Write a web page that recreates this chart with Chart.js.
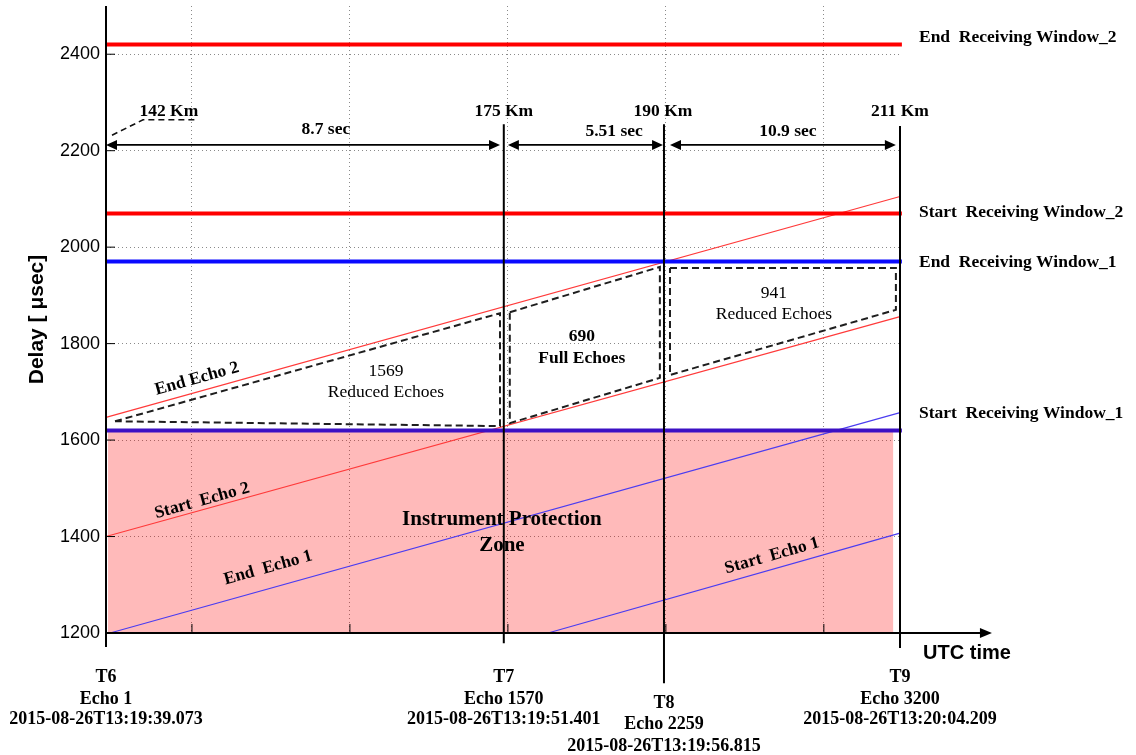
<!DOCTYPE html>
<html>
<head>
<meta charset="utf-8">
<script src="https://cdn.jsdelivr.net/npm/chart.js@4.4.1/dist/chart.umd.min.js"></script>
<style>
  html, body { margin: 0; padding: 0; background: #fff; }
  #wrap { width: 1136px; height: 755px; }
</style>
</head>
<body>
<div id="wrap"><canvas id="delayChart"></canvas></div>
<script>
// x axis is the schematic time axis (seconds after T6, as drawn), y is delay in usec
const xMax = 25.13;
const xArrowEnd = 28.04;
const xGrid = [2.72, 7.72, 12.72, 17.72, 22.72];
const yTicks = [1200, 1400, 1600, 1800, 2000, 2200, 2400];

// time markers T6..T9
const markNames = ['T6', 'T7', 'T8', 'T9'];
const markEchoes = ['Echo 1', 'Echo 1570', 'Echo 2259', 'Echo 3200'];
const markUtc = ['2015-08-26T13:19:39.073', '2015-08-26T13:19:51.401', '2015-08-26T13:19:56.815', '2015-08-26T13:20:04.209'];
const markX = [0, 12.59, 17.66, 25.13];
const markTop = [2500, 2255, 2255, 2251];
const markBottom = [1171, 1179, 1096, 1169];
const markRows = [[1109, 1063, 1022], [1109, 1063, 1022], [1055, 1011, 966], [1109, 1063, 1022]];

// receiving windows
const windowNames = ['End  Receiving Window_2', 'Start  Receiving Window_2', 'End  Receiving Window_1', 'Start  Receiving Window_1'];
const windowDelay = [2420, 2070, 1970, 1620];
const windowX = [0, 25.19];
const windowLabelX = 25.73;
const windowLabelY = [2434, 2071, 1969, 1656];
const windowColors = ['#ff0000', '#ff0000', '#0a0aff', '#3c10c4'];

// echo lines
const echoNames = ['End Echo 2', 'Start  Echo 2', 'End  Echo 1', 'Start  Echo 1'];
const echoX = [[0, 25.13], [0, 25.13], [0.13, 25.13], [13.99, 25.13]];
const echoDelay = [[1647, 2105], [1400, 1856], [1200, 1657], [1200, 1407]];
const echoLabelAt = [[2.88, 1727], [3.04, 1474], [5.13, 1335], [21.08, 1360]];
const echoColors = ['#ff3a3a', '#ff3a3a', '#4b3cf0', '#4b3cf0'];

// dashed echo regions
const zoneCounts = ['1569', '690', '941'];
const zoneKinds = ['Reduced Echoes', 'Full Echoes', 'Reduced Echoes'];
const zoneBold = [false, true, false];
const zoneX = [
  [0.285, 12.47, 12.47, 0.285],
  [12.78, 17.53, 17.53, 12.78, 12.78],
  [17.85, 25.0, 25.0, 17.85, 17.85]
];
const zoneY = [
  [1639, 1863, 1629, 1639],
  [1865, 1959, 1729, 1635, 1865],
  [1957, 1957, 1870, 1735, 1957]
];
const zoneLabelAt = [[8.86, 1743, 1698], [15.06, 1814, 1770], [21.14, 1905, 1861]];

// instrument protection zone
const protX = [0.06, 24.92];
const protTop = 1620;
const protBottom = 1200;

// distances and durations along the top
const kmLabels = ['142 Km', '175 Km', '190 Km', '211 Km'];
const kmX = [1.99, 12.59, 17.63, 25.13];
const kmY = 2282;
const leaderX = [0.19, 1.17, 2.82];
const leaderY = [2232, 2264, 2264];
const durLabels = ['8.7 sec', '5.51 sec', '10.9 sec'];
const spanFrom = [0, 12.72, 17.85];
const spanTo = [12.47, 17.63, 25.0];
const spanY = 2212;
const durX = [6.96, 16.08, 21.58];
const durY = [2243, 2239, 2239];

const SERIF = '"Liberation Serif", "Times New Roman", serif';
const SANS = '"Liberation Sans", Arial, sans-serif';

function pts(xs, ys) {
  return xs.map((x, i) => ({ x: x, y: ys[i] }));
}

const datasets = [];

datasets.push({
  label: 'Instrument Protection Zone',
  data: pts(protX, [protTop, protTop]),
  borderWidth: 0,
  borderColor: 'rgba(0,0,0,0)',
  backgroundColor: 'rgba(255,0,0,0.27)',
  fill: { value: protBottom },
  order: 9
});

windowNames.forEach((name, i) => {
  datasets.push({
    label: name,
    data: pts(windowX, [windowDelay[i], windowDelay[i]]),
    borderColor: windowColors[i],
    borderWidth: 4,
    order: 3
  });
});

echoNames.forEach((name, i) => {
  datasets.push({
    label: name,
    data: pts(echoX[i], echoDelay[i]),
    borderColor: echoColors[i],
    borderWidth: 1.2,
    order: 5
  });
});

zoneCounts.forEach((c, i) => {
  datasets.push({
    label: c + ' ' + zoneKinds[i],
    data: pts(zoneX[i], zoneY[i]),
    borderColor: '#1e1e1e',
    borderWidth: 2,
    borderDash: [7, 4],
    order: 4
  });
});

markNames.forEach((m, i) => {
  datasets.push({
    label: m,
    data: pts([markX[i], markX[i]], [markBottom[i], markTop[i]]),
    borderColor: '#000',
    borderWidth: 2,
    order: 2
  });
});

datasets.push({
  label: '142 Km leader',
  data: pts(leaderX, leaderY),
  borderColor: '#111',
  borderWidth: 1.6,
  borderDash: [6, 4],
  order: 4
});

function arrowHead(ctx, tipX, tipY, dir, len, half) {
  ctx.beginPath();
  ctx.moveTo(tipX, tipY);
  ctx.lineTo(tipX - dir * len, tipY - half);
  ctx.lineTo(tipX - dir * len, tipY + half);
  ctx.closePath();
  ctx.fill();
}

const annotate = {
  id: 'annotate',
  afterDatasetsDraw(chart) {
    const ctx = chart.ctx;
    const xs = chart.scales.x, ys = chart.scales.y;
    const X = v => xs.getPixelForValue(v);
    const Y = v => ys.getPixelForValue(v);

    function text(str, xv, yv, font, align, rot) {
      ctx.save();
      ctx.font = font;
      ctx.fillStyle = '#000';
      ctx.textAlign = align || 'center';
      ctx.textBaseline = 'middle';
      ctx.translate(X(xv), Y(yv));
      if (rot) ctx.rotate(rot);
      ctx.fillText(str, 0, 0);
      ctx.restore();
    }

    ctx.save();
    ctx.strokeStyle = '#000';
    ctx.fillStyle = '#000';

    // x axis with arrow
    const y0 = Y(protBottom);
    ctx.lineWidth = 2;
    ctx.beginPath();
    ctx.moveTo(X(0), y0);
    ctx.lineTo(X(xArrowEnd) - 10, y0);
    ctx.stroke();
    arrowHead(ctx, X(xArrowEnd), y0, 1, 12, 5);

    // inner tick marks
    ctx.lineWidth = 1;
    xGrid.forEach(v => {
      ctx.beginPath();
      ctx.moveTo(X(v), y0);
      ctx.lineTo(X(v), y0 - 9);
      ctx.stroke();
    });
    yTicks.slice(1).forEach(v => {
      ctx.beginPath();
      ctx.moveTo(X(0), Y(v));
      ctx.lineTo(X(0) + 9, Y(v));
      ctx.stroke();
    });

    // duration arrows
    ctx.lineWidth = 1.6;
    spanFrom.forEach((a, i) => {
      const ya = Y(spanY);
      ctx.beginPath();
      ctx.moveTo(X(a) + 8, ya);
      ctx.lineTo(X(spanTo[i]) - 8, ya);
      ctx.stroke();
      arrowHead(ctx, X(a), ya, -1, 11, 5);
      arrowHead(ctx, X(spanTo[i]), ya, 1, 11, 5);
    });
    ctx.restore();

    const bold = s => 'bold ' + s + 'px ' + SERIF;

    kmLabels.forEach((t, i) => text(t, kmX[i], kmY, bold(17.5)));
    durLabels.forEach((t, i) => text(t, durX[i], durY[i], bold(17.5)));

    windowNames.forEach((t, i) => text(t, windowLabelX, windowLabelY[i], bold(17.5), 'left'));

    echoNames.forEach((t, i) => {
      const ang = Math.atan2(Y(echoDelay[i][1]) - Y(echoDelay[i][0]), X(echoX[i][1]) - X(echoX[i][0]));
      text(t, echoLabelAt[i][0], echoLabelAt[i][1], bold(17.5), 'center', ang);
    });

    zoneCounts.forEach((c, i) => {
      const f = zoneBold[i] ? bold(17.5) : '17.5px ' + SERIF;
      text(c, zoneLabelAt[i][0], zoneLabelAt[i][1], f);
      text(zoneKinds[i], zoneLabelAt[i][0], zoneLabelAt[i][2], f);
    });

    text('Instrument Protection', 12.53, 1436, bold(21));
    text('Zone', 12.53, 1382, bold(21));

    markNames.forEach((m, i) => {
      text(m, markX[i], markRows[i][0], bold(18));
      text(markEchoes[i], markX[i], markRows[i][1], bold(18));
      text(markUtc[i], markX[i], markRows[i][2], bold(18));
    });

    text('UTC time', 27.25, 1158, 'bold 20px ' + SANS);
  }
};

new Chart(document.getElementById('delayChart'), {
  type: 'line',
  data: { datasets: datasets },
  plugins: [annotate],
  options: {
    responsive: true,
    maintainAspectRatio: false,
    animation: false,
    layout: { padding: { top: 6, right: 236, left: 0, bottom: 0 } },
    datasets: {
      line: { pointRadius: 0, tension: 0, clip: false, fill: false }
    },
    plugins: {
      legend: { display: false },
      tooltip: { enabled: false }
    },
    scales: {
      x: {
        type: 'linear',
        min: 0,
        max: xMax,
        afterBuildTicks: s => { s.ticks = xGrid.map(v => ({ value: v })); },
        afterFit: s => { s.height = 122; s.paddingLeft = 0; s.paddingRight = 0; },
        ticks: { display: false },
        grid: { color: '#8a8a8a', lineWidth: 1, drawTicks: false },
        border: { display: false, dash: [1, 3] }
      },
      y: {
        min: 1200,
        max: 2500,
        afterBuildTicks: s => { s.ticks = yTicks.map(v => ({ value: v })); },
        afterFit: s => { s.width = 106; s.paddingTop = 0; s.paddingBottom = 0; },
        ticks: {
          autoSkip: false,
          padding: 6,
          color: '#000',
          font: { family: SANS, size: 18 },
          callback: v => String(v)
        },
        grid: {
          color: c => (c.tick && c.tick.value === 1200 ? 'rgba(0,0,0,0)' : '#8a8a8a'),
          lineWidth: 1,
          drawTicks: false
        },
        border: { display: false, dash: [1, 3] },
        title: {
          display: true,
          text: 'Delay [ \u03bcsec]',
          color: '#000',
          font: { family: SANS, size: 21, weight: 'bold' },
          padding: { top: 25, bottom: 0 }
        }
      }
    }
  }
});
</script>
</body>
</html>
